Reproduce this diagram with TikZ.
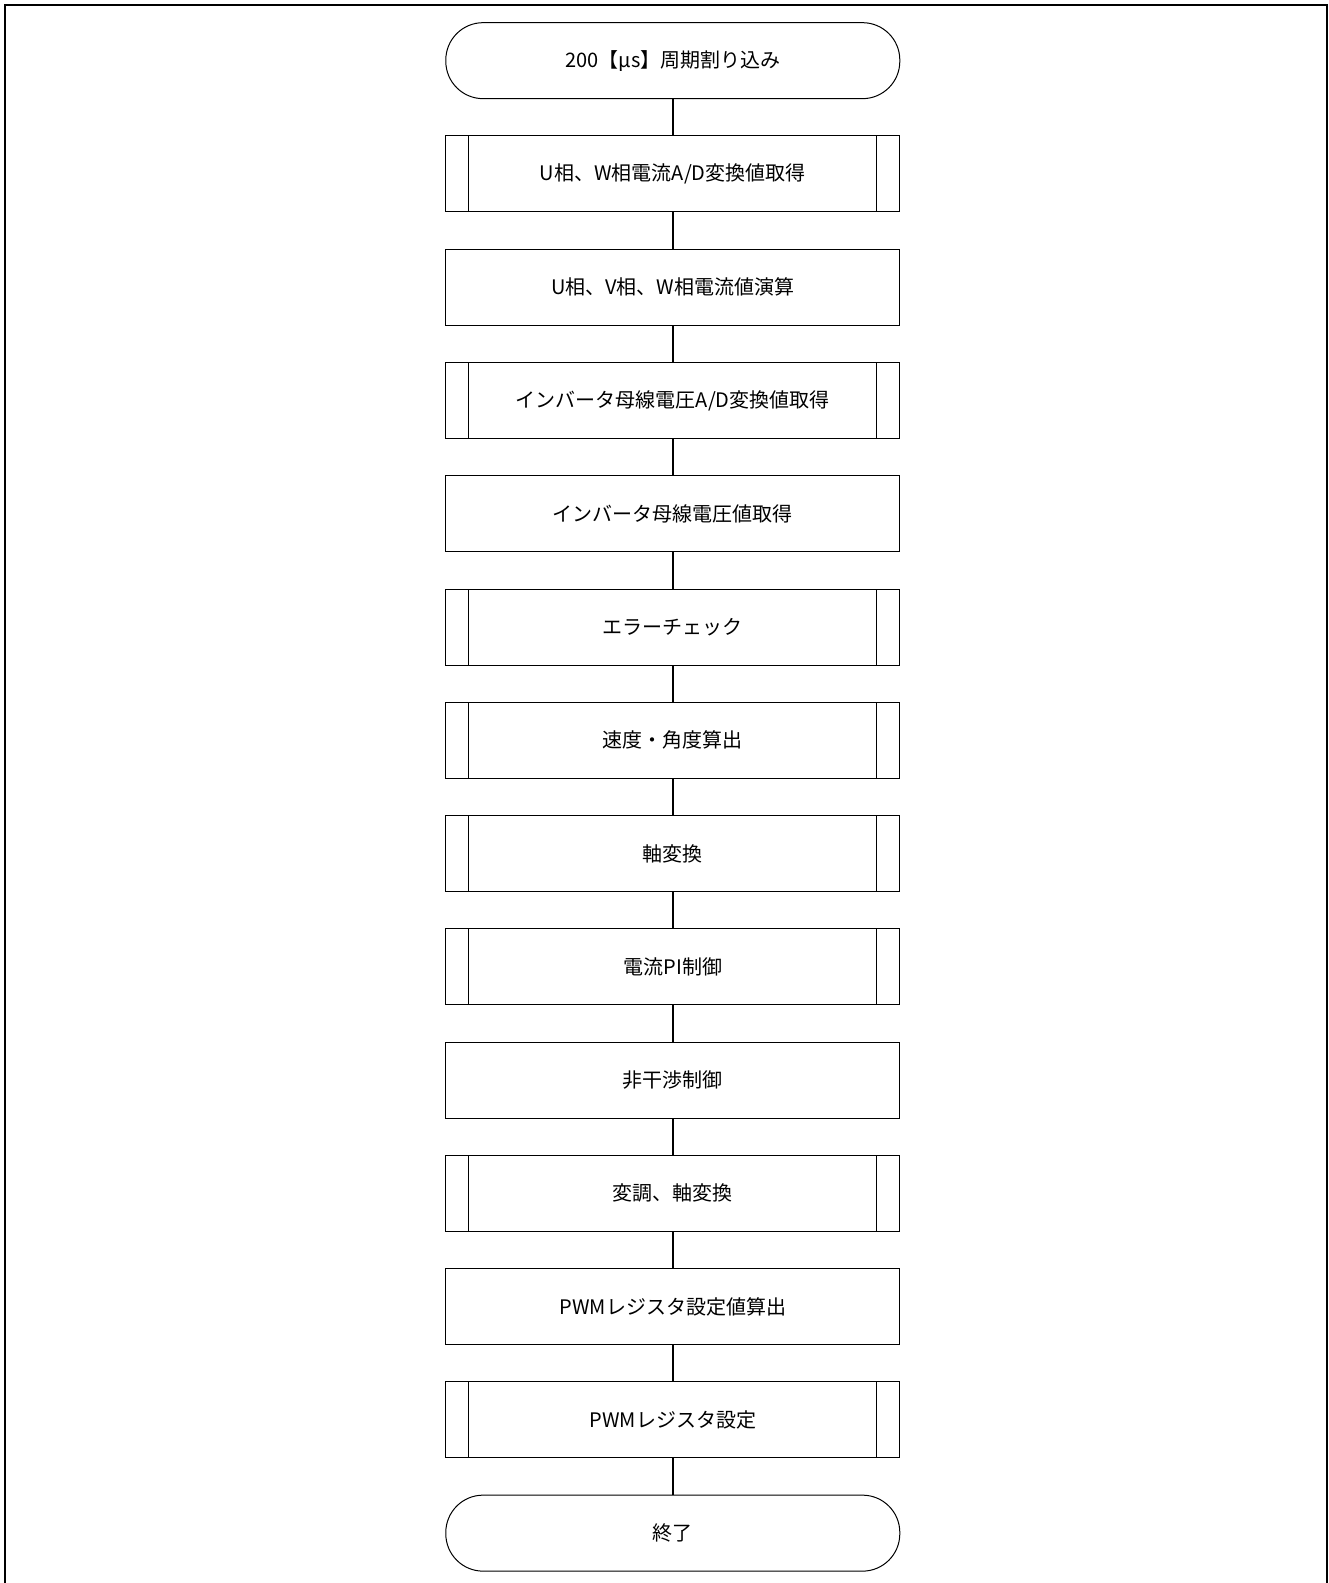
\documentclass[tikz,border=0pt]{standalone}
\usepackage{fontspec}
\setmainfont{Noto Sans CJK JP}
\usetikzlibrary{positioning}
\tikzset{
  proc/.style={draw, line width=0.75pt, minimum width=340.5pt,
    minimum height=57pt, inner sep=0pt},
  subproc/.style={proc, path picture={
      \draw[line width=0.75pt]
        ([xshift=17.25pt]path picture bounding box.north west) --
        ([xshift=17.25pt]path picture bounding box.south west);
      \draw[line width=0.75pt]
        ([xshift=-17.25pt]path picture bounding box.north east) --
        ([xshift=-17.25pt]path picture bounding box.south east);}},
  term/.style={proc, rounded corners=28pt},
  flow/.style={line width=1.1pt}
}
\begin{document}
\begin{tikzpicture}[node distance=27.2pt,
    font=\fontsize{15pt}{18pt}\selectfont]
  \useasboundingbox (0,0) rectangle (996pt,-1187.25pt);
  % Outer frame (bottom edge is off the page)
  \draw[line width=1.5pt] (3.75pt,-1187.25pt) -- (3.75pt,-3.75pt)
    -- (994.9pt,-3.75pt) -- (994.9pt,-1187.25pt);
  % Flow
  \node[term] (start) at (504.6pt,-45.5pt) {200【μs】周期割り込み};
  \node[subproc, below=of start] (adcur) {U相、W相電流A/D変換値取得};
  \node[proc, below=of adcur] (calccur) {U相、V相、W相電流値演算};
  \node[subproc, below=of calccur] (advolt) {インバータ母線電圧A/D変換値取得};
  \node[proc, below=of advolt] (getvolt) {インバータ母線電圧値取得};
  \node[subproc, below=of getvolt] (errchk) {エラーチェック};
  \node[subproc, below=of errchk] (speed) {速度・角度算出};
  \node[subproc, below=of speed] (axis) {軸変換};
  \node[subproc, below=of axis] (curpi) {電流PI制御};
  \node[proc, below=of curpi] (decoup) {非干渉制御};
  \node[subproc, below=of decoup] (modul) {変調、軸変換};
  \node[proc, below=of modul] (pwmcalc) {PWMレジスタ設定値算出};
  \node[subproc, below=of pwmcalc] (pwmset) {PWMレジスタ設定};
  \node[term, below=of pwmset] (stop) {終了};
  % Connectors
  \foreach \a/\b in {start/adcur, adcur/calccur, calccur/advolt,
      advolt/getvolt, getvolt/errchk, errchk/speed, speed/axis,
      axis/curpi, curpi/decoup, decoup/modul, modul/pwmcalc,
      pwmcalc/pwmset, pwmset/stop}
    \draw[flow] (\a) -- (\b);
\end{tikzpicture}
\end{document}
